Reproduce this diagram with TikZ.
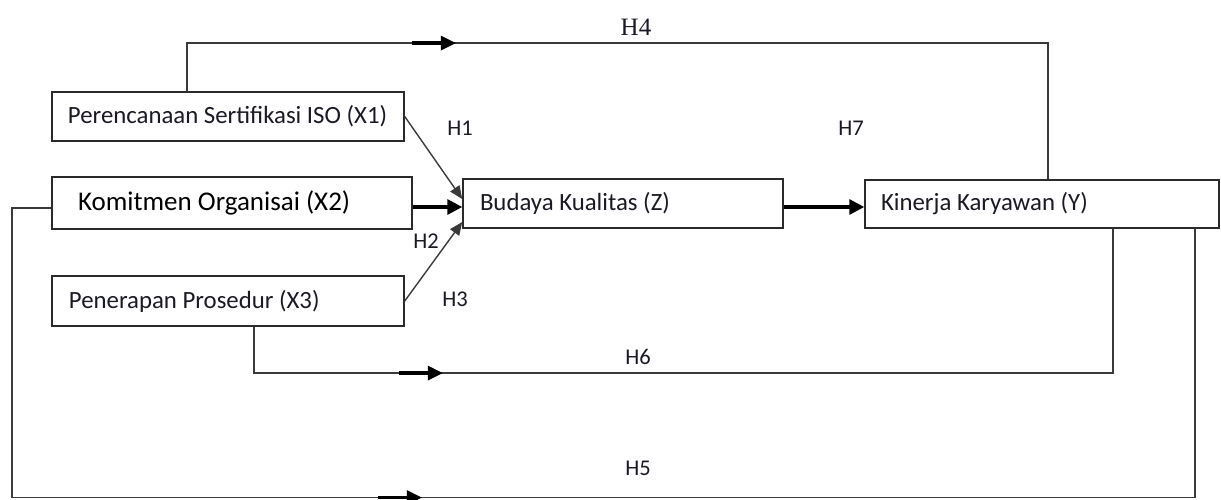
\documentclass[tikz,border=0pt]{standalone}
\usepackage{fontspec}
\setmainfont{Carlito}
\newfontfamily\hserif{Liberation Serif}
\usetikzlibrary{arrows.meta,decorations.markings}

\definecolor{linec}{HTML}{3A3A3A}
\definecolor{boxc}{HTML}{2A2A2A}
\definecolor{txtc}{HTML}{1A1A24}

\tikzset{
  box/.style={draw=boxc, line width=1.5pt, fill=white, inner xsep=0pt, inner ysep=0pt,
              font=\fontsize{24.8}{28}\selectfont, text=txtc},
  hlab/.style={font=\fontsize{22.5}{26}\selectfont, text=txtc, inner sep=0pt},
  wire/.style={draw=linec, line width=1.4pt},
  heavy/.style={draw=black, line width=3.2pt, -{Triangle[length=15pt,width=15pt]}},
  slant/.style={draw=linec, line width=1.4pt, -{Triangle[length=13pt,width=11pt]}},
  midarrow/.style={postaction={decorate}, decoration={markings,
    mark=at position #1pt with {
      \draw[black, line width=3.2pt] (-44pt,0pt) -- (-13pt,0pt);
      \fill[black] (0pt,0pt) -- (-15pt,7.5pt) -- (-15pt,-7.5pt) -- cycle;}}}
}

\begin{document}
\begin{tikzpicture}[x=1pt, y=-1pt]
  \useasboundingbox (0,0) rectangle (1221,499);

  % variable boxes
  \node[box, minimum width=352, minimum height=49] (x1) at (228,116.5)
    {\hspace*{16pt}\makebox[320pt][l]{Perencanaan Sertifikasi ISO (X1)}\hspace*{16pt}};
  \node[box, minimum width=360, minimum height=52, font=\fontsize{27}{30}\selectfont, text=black] (x2) at (232,203)
    {\hspace*{26pt}\makebox[308pt][l]{Komitmen Organisai (X2)}\hspace*{26pt}};
  \node[box, minimum width=352, minimum height=50] (x3) at (228,301)
    {\hspace*{17pt}\makebox[318pt][l]{Penerapan Prosedur (X3)}\hspace*{17pt}};
  \node[box, minimum width=320, minimum height=49] (z) at (623,203.5)
    {\hspace*{17pt}\makebox[286pt][l]{Budaya Kualitas (Z)}\hspace*{17pt}};
  \node[box, minimum width=354, minimum height=48] (y) at (1042,204)
    {\hspace*{16pt}\makebox[322pt][l]{Kinerja Karyawan (Y)}\hspace*{16pt}};

  % corner points of the routed paths
  \coordinate (h4a) at (187,43);
  \coordinate (h4b) at (1048,43);
  \coordinate (h6a) at (254,373);
  \coordinate (h6b) at (1113,373);
  \coordinate (h5a) at (12,208);
  \coordinate (h5b) at (12,497.5);
  \coordinate (h5c) at (1195,497.5);

  % H4: X1 -> Y over the top
  \draw[wire, midarrow=317] (x1.north -| h4a) -- (h4a) -- (h4b) -- (y.north -| h4b);
  % H6: X3 -> Y below
  \draw[wire, midarrow=235] (x3.south -| h6a) -- (h6a) -- (h6b) -- (y.south -| h6b);
  % H5: X2 -> Y round the outside
  \draw[wire, midarrow=738.5] (x2.west |- h5a) -- (h5a) -- (h5b) -- (h5c) -- (y.south -| h5c);

  % direct paths into Z and on to Y
  \draw[slant] (x1.east) -- ([yshift=4.5pt]z.west);
  \draw[heavy] ([yshift=-4pt]x2.east) -- ([yshift=-3.5pt]z.west);
  \draw[slant] (x3.east) -- ([yshift=-18.5pt]z.west);
  \draw[heavy] ([yshift=-3.5pt]z.east) -- ([yshift=-3pt]y.west);

  % hypothesis labels
  \node[hlab, font=\hserif\fontsize{25}{28}\selectfont] (lh4) at (636,27) {H4};
  \node[hlab] (lh1) at (460,128) {H1};
  \node[hlab] (lh2) at (426,241.5) {H2};
  \node[hlab] (lh3) at (455,299) {H3};
  \node[hlab] (lh7) at (851,128) {H7};
  \node[hlab] (lh6) at (638,357) {H6};
  \node[hlab] (lh5) at (638,468) {H5};
\end{tikzpicture}
\end{document}
